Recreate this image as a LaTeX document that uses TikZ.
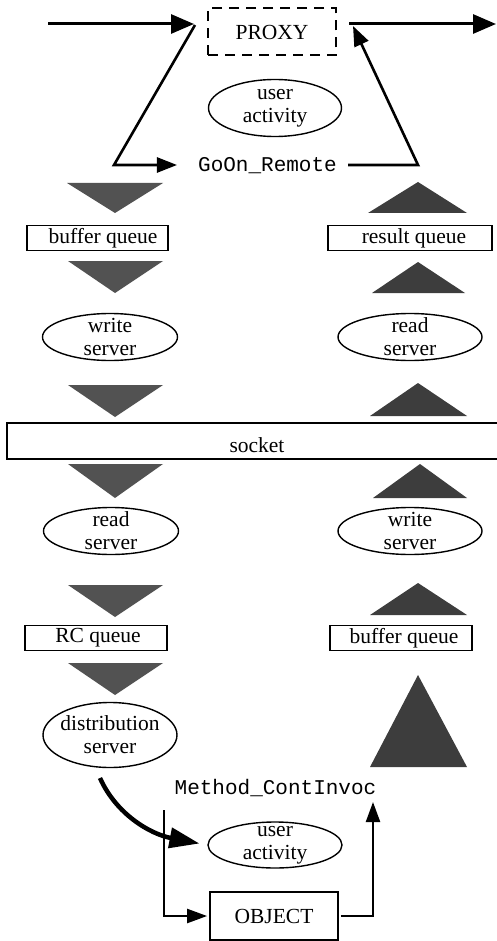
\documentclass[tikz,border=0pt]{standalone}
\usepackage{fontspec}
\setmainfont{Liberation Serif}
\setmonofont{Liberation Mono}
\usetikzlibrary{arrows.meta,shapes.geometric}
\begin{document}
\begin{tikzpicture}[x=1pt,y=-1pt,
  lbl/.style={font=\fontsize{21.5}{23}\selectfont, align=center, inner sep=0pt},
  code/.style={font=\ttfamily\fontsize{21}{23}\selectfont, inner sep=0pt},
  qbox/.style={draw, line width=1.8pt, rectangle, inner sep=0pt,
    font=\fontsize{21.5}{23}\selectfont},
  srv/.style={draw, ellipse, line width=1.4pt, inner sep=0pt},
  proxybox/.style={draw, line width=2pt, dash pattern=on 10pt off 7pt,
    rectangle, inner sep=0pt, font=\fontsize{21.5}{23}\selectfont},
  downflow/.style={fill=black!68},
  upflow/.style={fill=black!76},
  mainarrow/.style={line width=3pt, -{Triangle[length=23pt,width=19pt]}},
  callarrow/.style={line width=2.6pt, -{Triangle[length=20pt,width=15pt]}},
  curvearrow/.style={line width=4.5pt, -{Triangle[length=30pt,width=20pt]}},
  linkarrow/.style={line width=2.3pt, -{Triangle[length=20pt,width=14pt]}},
]
\useasboundingbox (0,0) rectangle (497,941);

% ---------- client side: proxy ----------
\node[proxybox, minimum width=128pt, minimum height=47pt] (proxy) at (272,32) {PROXY};
\node[srv, minimum width=133pt, minimum height=57pt] (ua1) at (275,108) {};
\node[lbl] (ua1t) at (ua1) {user\\activity};
\node[code] (goon) at (267.5,166) {GoOn\_Remote};

\coordinate (inL) at (48,24);
\coordinate (outR) at (496,24);
\coordinate (pin) at (195,25);
\coordinate (bendL) at (114,165);
\coordinate (bendR) at (418,165);
\coordinate (pout) at (353,26);

\draw[mainarrow, shorten >=13pt] (inL) -- (proxy.west |- inL);
\draw[mainarrow, shorten <=12pt] (proxy.east |- inL) -- (outR);
\draw[callarrow, line join=miter, shorten >=21pt] (pin) -- (bendL) -- (goon.west |- bendL);
\draw[callarrow, line join=miter, shorten <=11pt] (goon.east |- bendR) -- (bendR) -- (pout);

% ---------- left column (requests going down) ----------
\fill[downflow] (67,183) -- (163,183) -- (115,213) -- cycle;
\node[qbox, minimum width=141pt, minimum height=25pt] (bq1) at (97.5,238) {};
\node[lbl] (bq1t) at (103,238) {buffer queue};
\fill[downflow] (68,261) -- (163,261) -- (115,293) -- cycle;
\node[srv, minimum width=135pt, minimum height=47pt] (ws1) at (110,337) {};
\node[lbl] (ws1t) at (ws1) {write\\server};
\fill[downflow] (68,385) -- (163,385) -- (115,417) -- cycle;

% ---------- right column (results going up) ----------
\fill[upflow] (368,213) -- (467,213) -- (418,182) -- cycle;
\node[qbox, minimum width=164pt, minimum height=25pt] (rq) at (410,238) {};
\node[lbl] (rqt) at (414,238) {result queue};
\fill[upflow] (372,293) -- (465,293) -- (418,262) -- cycle;
\node[srv, minimum width=144pt, minimum height=47pt] (rs1) at (410,337) {};
\node[lbl] (rs1t) at (rs1) {read\\server};
\fill[upflow] (370,416) -- (467,416) -- (418,383) -- cycle;

% ---------- socket ----------
\node[qbox, minimum width=500pt, minimum height=36pt] (sock) at (257,441) {};
\node[lbl, anchor=base] (socklbl) at (257,452) {socket};

% ---------- server side, left column ----------
\fill[downflow] (68,464) -- (163,464) -- (115,498) -- cycle;
\node[srv, minimum width=135pt, minimum height=47pt] (rs2) at (111,531) {};
\node[lbl] (rs2t) at (rs2) {read\\server};
\fill[downflow] (68,585) -- (163,585) -- (115,617) -- cycle;
\node[qbox, minimum width=142pt, minimum height=25pt] (rcq) at (96,638) {};
\node[lbl] (rcqt) at (98,638) {RC queue};
\fill[downflow] (68,663) -- (163,663) -- (115,695) -- cycle;
\node[srv, minimum width=134pt, minimum height=65pt] (dist) at (110,735) {};
\node[lbl] (distt) at (dist) {distribution\\server};

% ---------- server side, right column ----------
\fill[upflow] (373,498) -- (467,498) -- (420,464) -- cycle;
\node[srv, minimum width=144pt, minimum height=47pt] (ws2) at (410,531) {};
\node[lbl] (ws2t) at (ws2) {write\\server};
\fill[upflow] (370,615) -- (467,615) -- (418,583) -- cycle;
\node[qbox, minimum width=142pt, minimum height=25pt] (bq2) at (401,638) {};
\node[lbl] (bq2t) at (404,638) {buffer queue};
\fill[upflow] (370,767) -- (467,767) -- (418,675) -- cycle;

% ---------- object invocation ----------
\node[code] (mci) at (275.5,788) {Method\_ContInvoc};
\node[srv, minimum width=134pt, minimum height=46pt] (ua2) at (275,845) {};
\node[lbl] (ua2t) at (ua2) {user\\activity};
\node[qbox, minimum width=128pt, minimum height=48pt] (obj) at (274,916) {OBJECT};

\coordinate (dfrom) at (100,778);
\coordinate (vtop) at (164,810);
\coordinate (mtip) at (373,802);

\draw[curvearrow, shorten >=8pt] (dfrom) .. controls (116,814) and (150,834) .. (ua2.west);
\draw[linkarrow, line join=miter, shorten >=2pt] (vtop) |- (obj.west);
\draw[linkarrow, line join=miter, shorten <=2pt] (obj.east) -| (mtip);
\end{tikzpicture}
\end{document}
